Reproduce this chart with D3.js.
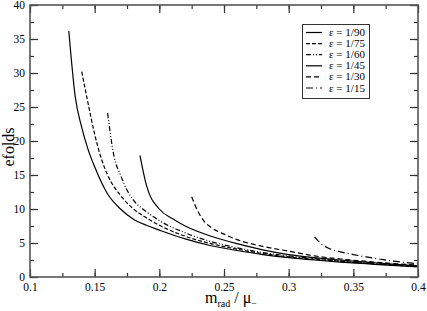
<!DOCTYPE html>
<html><head><meta charset="utf-8">
<script src="https://cdn.jsdelivr.net/npm/d3@7"></script>
<style>body{margin:0;background:#fff}svg{display:block}</style>
</head><body>
<svg id="c" width="427" height="311"></svg>
<script>
const labels = ["ε = 1/90","ε = 1/75","ε = 1/60","ε = 1/45","ε = 1/30","ε = 1/15"];
const dashes = [null,"4,2","5,2,1,2,1,2",null,"5,3","7,3,1,3"];
const x_e90 = [0.13,0.135,0.14,0.145,0.15,0.16,0.17,0.18,0.19,0.2,0.22,0.24,0.26,0.28,0.3,0.32,0.34,0.36,0.38,0.4];
const y_e90 = [36.2,26.5,22,18.7,16.2,12.2,10.0,8.5,7.6,6.9,5.6,4.6,3.9,3.3,2.85,2.5,2.2,1.95,1.7,1.5];
const x_e75 = [0.14,0.1444,0.15,0.155,0.16,0.17,0.18,0.19,0.2,0.22,0.24,0.26,0.28,0.3,0.32,0.34,0.36,0.38,0.4];
const y_e75 = [30.2,26,21,17.5,15,12,10,8.7,7.6,6.0,4.9,4.1,3.45,2.95,2.6,2.3,2.0,1.75,1.55];
const x_e60 = [0.16,0.165,0.17,0.175,0.18,0.19,0.2,0.22,0.24,0.26,0.28,0.3,0.32,0.34,0.36,0.38,0.4];
const y_e60 = [24.1,17.7,15,12.8,11.3,9.6,8.3,6.5,5.2,4.3,3.6,3.1,2.7,2.35,2.05,1.8,1.6];
const x_e45 = [0.185,0.19,0.2,0.21,0.22,0.24,0.26,0.28,0.3,0.32,0.34,0.36,0.38,0.4];
const y_e45 = [17.9,13.5,10.0,8.6,7.5,6.0,4.9,4.0,3.3,2.85,2.5,2.2,1.9,1.65];
const x_e30 = [0.225,0.23,0.235,0.24,0.25,0.26,0.28,0.3,0.32,0.34,0.36,0.38,0.4];
const y_e30 = [11.8,9.6,8.1,7.3,6.3,5.5,4.5,3.8,3.1,2.65,2.3,2.0,1.75];
const x_e15 = [0.32,0.325,0.33,0.34,0.35,0.36,0.37,0.38,0.39,0.4];
const y_e15 = [5.9,4.9,4.3,3.7,3.3,2.95,2.65,2.35,2.15,1.95];
const xTicks = [0.1,0.15,0.2,0.25,0.3,0.35,0.4];
const yTicks = [0,5,10,15,20,25,30,35,40];

const series = [[x_e90,y_e90],[x_e75,y_e75],[x_e60,y_e60],[x_e45,y_e45],[x_e30,y_e30],[x_e15,y_e15]];
const svg = d3.select("#c");
const L=30,R=418,T=5,B=277;
const x = d3.scaleLinear().domain([0.1,0.4]).range([L,R]);
const y = d3.scaleLinear().domain([0,40]).range([B,T]);
const minorX = d3.range(0.1,0.4001,0.025);
const minorY = d3.range(0,40.001,2.5);
const fmt = d=>String(+d.toFixed(3));
const SERIF = "Liberation Serif";

// curves
const line = d3.line().x(d=>x(d[0])).y(d=>y(d[1])).curve(d3.curveMonotoneX);
series.forEach((s,i)=>{
  const pts = s[0].map((v,j)=>[v,s[1][j]]);
  svg.append("path").attr("d",line(pts)).attr("fill","none").attr("stroke","#000")
    .attr("stroke-width",1.2).attr("stroke-dasharray",dashes[i]);
});

// axes
const axG = svg.append("g");
axG.append("g").attr("transform",`translate(0,${B})`)
  .call(d3.axisBottom(x).tickValues(minorX).tickSize(-4).tickFormat(""));
axG.append("g").attr("transform",`translate(0,${B})`)
  .call(d3.axisBottom(x).tickValues(xTicks).tickSize(-8).tickPadding(6).tickFormat(fmt));
axG.append("g").attr("transform",`translate(0,${T})`)
  .call(d3.axisTop(x).tickValues(minorX).tickSize(-4).tickFormat(""));
axG.append("g").attr("transform",`translate(0,${T})`)
  .call(d3.axisTop(x).tickValues(xTicks).tickSize(-8).tickFormat(""));
axG.append("g").attr("transform",`translate(${L},0)`)
  .call(d3.axisLeft(y).tickValues(minorY).tickSize(-4).tickFormat(""));
axG.append("g").attr("transform",`translate(${L},0)`)
  .call(d3.axisLeft(y).tickValues(yTicks).tickSize(-8).tickPadding(5).tickFormat(d3.format("d")));
axG.append("g").attr("transform",`translate(${R},0)`)
  .call(d3.axisRight(y).tickValues(minorY).tickSize(-4).tickFormat(""));
axG.append("g").attr("transform",`translate(${R},0)`)
  .call(d3.axisRight(y).tickValues(yTicks).tickSize(-8).tickFormat(""));
axG.selectAll(".domain").remove();
axG.selectAll("g").attr("font-family",SERIF);
axG.selectAll("line").attr("stroke","#333").attr("stroke-width",1.2);
axG.selectAll("text").attr("font-family",SERIF).attr("font-size",11.5).attr("fill","#000");
svg.append("rect").attr("x",L).attr("y",T).attr("width",R-L).attr("height",B-T)
  .attr("fill","none").attr("stroke","#555").attr("stroke-width",1.6);

// axis titles
const xt = svg.append("text").attr("x",231).attr("y",303).attr("text-anchor","middle")
  .attr("font-family",SERIF).attr("font-size",16);
xt.append("tspan").text("m");
xt.append("tspan").attr("font-size",10).attr("dy",4).text("rad");
xt.append("tspan").attr("dy",-4).text(" / μ");
xt.append("tspan").attr("font-size",10).attr("dy",4).text("−");
svg.append("text").attr("transform","translate(14,147) rotate(-90)").attr("text-anchor","middle")
  .attr("font-family",SERIF).attr("font-size",16).text("efolds");

// legend
const lg = svg.append("g");
lg.append("rect").attr("x",302.5).attr("y",24.5).attr("width",67).attr("height",74)
  .attr("fill","#fff").attr("stroke","#333").attr("stroke-width",1);
labels.forEach((t,i)=>{
  const yy = 32.5 + i*11.1;
  lg.append("line").attr("x1",306).attr("x2",322).attr("y1",yy).attr("y2",yy)
    .attr("stroke","#000").attr("stroke-width",1.2).attr("stroke-dasharray",dashes[i]);
  lg.append("text").attr("x",329).attr("y",yy+3.5).attr("font-family",SERIF).attr("font-size",11).text(t);
});
</script>
</body></html>
